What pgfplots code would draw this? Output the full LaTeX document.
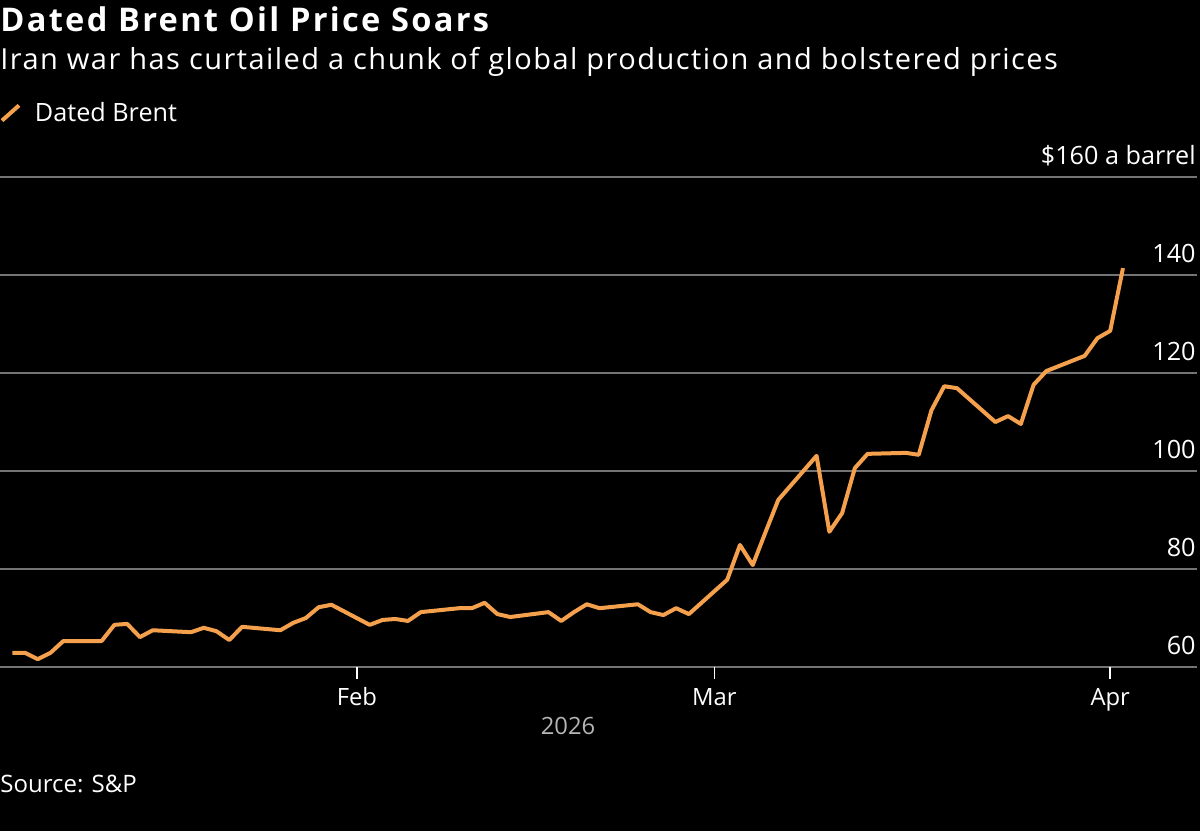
\documentclass[border=0pt]{standalone}
\usepackage{pgfplots}
\pgfplotsset{compat=1.18}
\usepackage{pgfplotstable}
\usepackage{fontspec}
\setmainfont{Open Sans}

\definecolor{brent}{HTML}{F5A04C}
\definecolor{gridgray}{HTML}{747474}
\definecolor{yeargray}{HTML}{B4B4B4}

% Dated Brent, $/bbl; day = days since 1 Jan 2026 (31 = 1 Feb, 59 = 1 Mar, 90 = 1 Apr)
\pgfplotstableread{
day price
4  62.9
5  62.9
6  61.6
7  62.9
8  65.3
11 65.3
12 68.6
13 68.8
14 66.1
15 67.5
18 67.1
19 68.0
20 67.3
21 65.5
22 68.2
25 67.5
26 69.0
27 70.0
28 72.2
29 72.7
32 68.6
33 69.6
34 69.8
35 69.4
36 71.2
39 72.0
40 72.0
41 73.1
42 70.8
43 70.2
46 71.2
47 69.4
48 71.2
49 72.8
50 72.0
53 72.8
54 71.2
55 70.6
56 72.0
57 70.8
60 77.8
61 84.9
62 80.8
63 87.5
64 94.1
67 103.1
68 87.6
69 91.4
70 100.6
71 103.5
74 103.7
75 103.3
76 112.4
77 117.3
78 116.9
81 110.0
82 111.2
83 109.6
84 117.6
85 120.4
88 123.5
89 127.1
90 128.6
91 141.4
}\brentdata

\begin{document}
\begin{tikzpicture}
\fill[black] (0pt,0pt) rectangle (600pt,415.5pt);
\useasboundingbox (0pt,0pt) rectangle (600pt,415.5pt);

\node[anchor=base west, inner sep=0pt, text=white,
      font=\fontsize{16.3}{19}\selectfont\bfseries\addfontfeatures{LetterSpace=7}] at (0pt,399.5pt)
      {Dated Brent Oil Price Soars};
\node[anchor=base west, inner sep=0pt, text=white,
      font=\fontsize{14.5}{17}\selectfont\addfontfeatures{LetterSpace=5}] at (0pt,380.5pt)
      {Iran war has curtailed a chunk of global production and bolstered prices};

\begin{axis}[
  at={(0pt,82pt)}, anchor=south west,
  scale only axis, width=598.5pt, height=245pt,
  xmin=3.04, xmax=96.8, ymin=60, ymax=160,
  clip=false,
  axis line style={draw=none},
  ymajorgrids, grid style={gridgray, line width=1pt},
  ytick={60,80,100,120,140,160},
  yticklabels={60,80,100,120,140,{\$160 a barrel}},
  yticklabel pos=right, ytick pos=right,
  ytick style={draw=none},
  yticklabel style={anchor=base east, inner sep=0pt, text=white,
                    font=\fontsize{12.6}{15}\selectfont, xshift=-6.5pt, yshift=6pt},
  xtick={31,59,90}, xticklabels={Feb,Mar,Apr},
  xtick pos=bottom,
  tick align=outside, major tick length=6pt,
  xtick style={white, line width=0.75pt},
  xticklabel style={anchor=base, inner sep=0pt, text=white,
                    font=\fontsize{11.9}{14}\selectfont, yshift=-13pt},
  legend style={at={(0,1.1306)}, anchor=west, draw=none, fill=none,
                text=white, font=\fontsize{12.6}{15}\selectfont,
                inner sep=0pt, outer sep=0pt,
                /tikz/every odd column/.append style={column sep=5pt}},
  legend image code/.code={\draw[brent, line width=2pt] (0.5pt,-3.8pt) -- (9pt,3.8pt);},
]
\addplot[brent, line width=2pt, line join=round] table[x=day, y=price] {\brentdata};
\addlegendentry{Dated Brent}
\end{axis}

\node[anchor=base, inner sep=0pt, text=yeargray,
      font=\fontsize{11.9}{14}\selectfont] at (284pt,48.5pt) {2026};
\node[anchor=base west, inner sep=0pt, text=white,
      font=\fontsize{12}{15}\selectfont] at (0pt,19.5pt) {Source: S\&P};
\end{tikzpicture}
\end{document}
